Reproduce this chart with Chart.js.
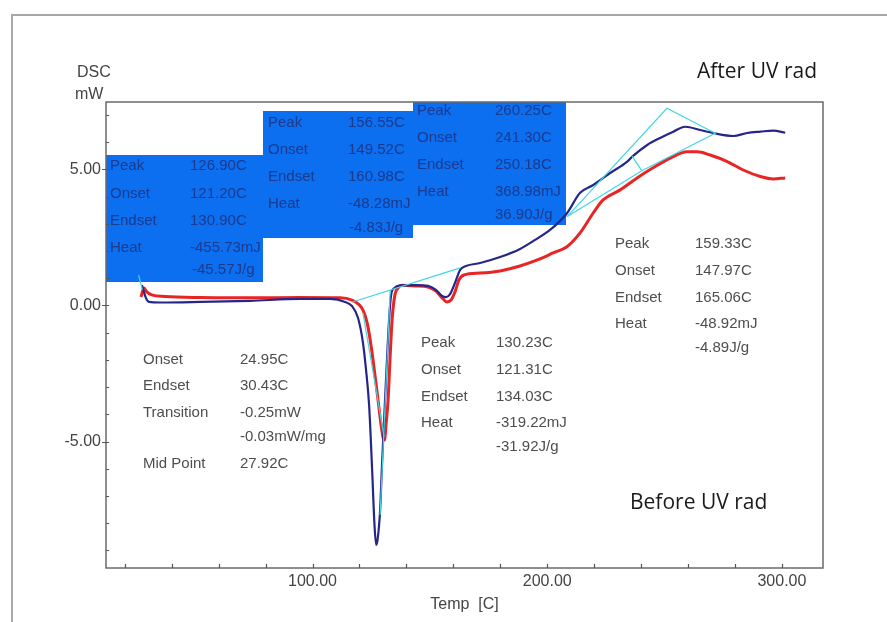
<!DOCTYPE html>
<html><head><meta charset="utf-8">
<script src="https://cdn.jsdelivr.net/npm/chart.js@4.4.0/dist/chart.umd.min.js"></script>
<style>html,body{margin:0;padding:0;background:#fff;}canvas{display:block;}</style>
</head><body>
<canvas id="c" width="887" height="622"></canvas>
<script>
// ---- data ----
const tempAfter = [27.3,27.7,29.0,30.3,35.0,52.0,73.4,94.7,107.5,113.9,116.8,119.4,121.5,122.8,124.1,125.4,126.4,127.1,127.7,128.8,129.6,130.4,131.5,132.6,133.5,134.8,137.3,143.7,149.2,152.6,155.2,156.9,158.6,160.7,162.9,165.4,171.4,179.9,188.4,194.8,201.2,205.5,208.5,214.0,219.6,226.8,234.1,236.2,242.6,248.1,253.7,258.8,265.2,270.7,279.3,285.2,290.8,296.3,301.4];
const dscAfter  = [0.75,0.64,0.28,0.13,0.11,0.13,0.17,0.24,0.24,0.13,-0.02,-0.46,-1.38,-2.37,-3.66,-6.05,-8.07,-8.80,-8.62,-7.52,-5.86,-4.39,-2.37,-0.53,0.39,0.64,0.74,0.75,0.72,0.57,0.35,0.31,0.42,0.83,1.31,1.45,1.56,1.78,2.08,2.41,2.78,3.11,3.40,4.14,4.43,4.87,5.29,5.47,5.90,6.16,6.39,6.57,6.45,6.34,6.23,6.34,6.39,6.43,6.35];
const tempBefore = [26.9,28.2,29.4,31.5,37.1,52.0,73.4,94.7,111.7,116.8,119.4,121.5,123.2,124.9,126.6,127.9,129.2,130.0,130.7,131.3,132.2,133.0,133.9,135.1,136.4,138.1,143.7,149.2,152.6,155.2,157.3,159.0,160.7,162.4,164.5,171.4,179.9,188.4,196.9,202.5,208.4,214.0,219.6,223.8,231.1,238.3,245.1,252.4,259.6,263.9,269.4,276.7,283.5,290.8,296.3,301.4];
const dscBefore  = [0.31,0.64,0.50,0.39,0.33,0.29,0.28,0.29,0.28,0.20,0.06,-0.17,-0.61,-1.45,-2.56,-3.47,-4.39,-4.83,-4.94,-4.39,-3.47,-2.00,-0.53,0.39,0.64,0.74,0.72,0.68,0.53,0.28,0.13,0.20,0.50,0.94,1.12,1.19,1.27,1.45,1.71,1.93,2.16,2.67,3.40,3.88,4.25,4.69,5.06,5.42,5.65,5.65,5.53,5.29,4.98,4.74,4.65,4.69];
// analysis construction lines (cyan)
const cyanTransT = [25.9, 27.5];            const cyanTransV = [1.12, 0.57];
const cyanBaseT  = [116.7, 162.9];          const cyanBaseV  = [0.12, 1.38];
const cyanTanAT  = [121.5, 130.5];          const cyanTanAV  = [-0.28, -4.83];
const cyanTanBT  = [128.8, 133.1];          const cyanTanBV  = [-7.7, 0.57];
const cyanTriT   = [208.4, 251.0, 271.6, 240.3, 208.4]; const cyanTriV = [3.26, 7.25, 6.33, 4.95, 3.26];
const cyanKinkT  = [240.3, 236.1];          const cyanKinkV  = [4.95, 5.5];
// ticks
const xMinorTicks = [20,40,60,80,100,120,140,160,180,200,220,240,260,280,300];
const xMajorTicks = [100,200,300];
const xTickLabels = ['100.00','200.00','300.00'];
const yMinorTicks = [-9,-8,-7,-6,-5,-4,-3,-2,-1,0,1,2,3,4,5,6,7];
const yMajorTicks = [-5,0,5];
const yTickLabels = ['-5.00','0.00','5.00'];
// annotation texts
const box1Labels = ['Peak','Onset','Endset','Heat'];
const box1Values = ['126.90C','121.20C','130.90C','-455.73mJ','-45.57J/g'];
const box2Labels = ['Peak','Onset','Endset','Heat'];
const box2Values = ['156.55C','149.52C','160.98C','-48.28mJ','-4.83J/g'];
const box3Labels = ['Peak','Onset','Endset','Heat'];
const box3Values = ['260.25C','241.30C','250.18C','368.98mJ','36.90J/g'];
const grpALabels = ['Onset','Endset','Transition','','Mid Point'];
const grpAValues = ['24.95C','30.43C','-0.25mW','-0.03mW/mg','27.92C'];
const grpBLabels = ['Peak','Onset','Endset','Heat',''];
const grpBValues = ['130.23C','121.31C','134.03C','-319.22mJ','-31.92J/g'];
const grpCLabels = ['Peak','Onset','Endset','Heat',''];
const grpCValues = ['159.33C','147.97C','165.06C','-48.92mJ','-4.89J/g'];
const seriesNames = ['After UV rad','Before UV rad'];

const pts = (xs, ys) => xs.map((x, i) => ({x, y: ys[i]}));
const cyan = (xs, ys) => ({data: pts(xs, ys), borderColor:'#40d6e4', borderWidth:1.2, pointRadius:0, tension:0, fill:false});

const FONT = '"Liberation Sans", Arial, sans-serif';

const overlay = {
  id: 'overlay',
  beforeDraw(chart) {
    const ctx = chart.ctx;
    ctx.save();
    ctx.fillStyle = '#fff'; ctx.fillRect(0, 0, chart.width, chart.height);
    ctx.strokeStyle = '#a8a8a8'; ctx.lineWidth = 2;
    ctx.beginPath(); ctx.moveTo(12, 622); ctx.lineTo(12, 15); ctx.lineTo(887, 15); ctx.stroke();
    ctx.restore();
  },
  beforeDatasetsDraw(chart) {
    const ctx = chart.ctx, a = chart.chartArea;
    ctx.save();
    ctx.fillStyle = '#0b6ff0';
    ctx.fillRect(a.left, 155, 263 - a.left, 127);
    ctx.fillRect(263, 111, 150, 127);
    ctx.fillRect(413, a.top, 153, 225 - a.top);
    ctx.fillStyle = '#1c3a8e';
    ctx.font = '15px ' + FONT; ctx.textBaseline = 'middle'; ctx.textAlign = 'left';
    const rows = (labels, values, lx, vx, ys, lastDx) => {
      labels.forEach((t, i) => ctx.fillText(t, lx, ys[i]));
      values.forEach((t, i) => ctx.fillText(t, vx + (i === values.length - 1 ? lastDx : 0), ys[i]));
    };
    rows(box1Labels, box1Values, 110, 190, [166, 194, 221, 248, 270], 2);
    rows(box2Labels, box2Values, 268, 348, [123, 150, 177, 204, 228], 1);
    rows(box3Labels, box3Values, 417, 495, [111, 138, 165, 192, 215], 0);
    ctx.restore();
  },
  afterDraw(chart) {
    const ctx = chart.ctx, a = chart.chartArea;
    const xs = chart.scales.x, ys = chart.scales.y;
    ctx.save();
    // plot frame
    ctx.strokeStyle = '#6a6a6a'; ctx.lineWidth = 1.5;
    ctx.strokeRect(a.left, a.top, a.right - a.left, a.bottom - a.top);
    // ticks
    ctx.lineWidth = 1.2; ctx.strokeStyle = '#555';
    ctx.beginPath();
    xMinorTicks.forEach(v => { const px = Math.round(xs.getPixelForValue(v)) + 0.5; ctx.moveTo(px, a.bottom); ctx.lineTo(px, a.bottom - 4); });
    yMinorTicks.forEach(v => { const py = Math.round(ys.getPixelForValue(v)) + 0.5; ctx.moveTo(a.left, py); ctx.lineTo(a.left + 3, py); });
    yMajorTicks.forEach(v => { const py = Math.round(ys.getPixelForValue(v)) + 0.5; ctx.moveTo(a.left - 4, py); ctx.lineTo(a.left, py); });
    ctx.stroke();
    // axis unit label
    ctx.fillStyle = '#444'; ctx.font = '16px ' + FONT; ctx.textBaseline = 'middle'; ctx.textAlign = 'left';
    ctx.fillText('DSC', 77, 73);
    ctx.fillText('mW', 75, 95);
    // grey analysis results
    ctx.fillStyle = '#4e4e4e'; ctx.font = '15px ' + FONT;
    const rows = (labels, values, lx, vx, yArr) => {
      labels.forEach((t, i) => { if (t) ctx.fillText(t, lx, yArr[i]); });
      values.forEach((t, i) => ctx.fillText(t, vx, yArr[i]));
    };
    rows(grpALabels, grpAValues, 143, 240, [360, 386, 413, 437, 464]);
    rows(grpBLabels, grpBValues, 421, 496, [343, 370, 397, 423, 447]);
    rows(grpCLabels, grpCValues, 615, 695, [244, 271, 298, 324, 348]);
    // series captions
    ctx.fillStyle = '#1a1a1a'; ctx.font = '21px "Open Sans", sans-serif';
    ctx.fillText(seriesNames[0], 697, 72);
    ctx.fillText(seriesNames[1], 630, 503);
    ctx.restore();
  }
};

new Chart(document.getElementById('c'), {
  type: 'line',
  data: {
    datasets: [
      cyan(cyanTransT, cyanTransV),
      cyan(cyanBaseT, cyanBaseV),
      cyan(cyanTanAT, cyanTanAV),
      cyan(cyanTanBT, cyanTanBV),
      cyan(cyanTriT, cyanTriV),
      cyan(cyanKinkT, cyanKinkV),
      {label: seriesNames[0], data: pts(tempAfter, dscAfter), borderColor:'#26268a', borderWidth:2.2, pointRadius:0, cubicInterpolationMode:'monotone', fill:false},
      {label: seriesNames[1], data: pts(tempBefore, dscBefore), borderColor:'#e82424', borderWidth:3, pointRadius:0, cubicInterpolationMode:'monotone', fill:false}
    ]
  },
  options: {
    responsive: false, animation: false, devicePixelRatio: 1,
    layout: {padding: {left: 0, top: 102, right: 64, bottom: 0}},
    plugins: {legend: {display: false}, tooltip: {enabled: false}},
    events: [],
    scales: {
      x: {
        type: 'linear', min: 12, max: 317.5,
        grid: {display: false, drawTicks: false}, border: {display: false},
        afterBuildTicks: s => { s.ticks = xMajorTicks.map(v => ({value: v})); },
        afterFit: s => { s.height = 54; },
        ticks: {autoSkip: false, maxRotation: 0, padding: 4, color: '#444', font: {family: FONT, size: 16},
          callback: v => { const i = xMajorTicks.indexOf(v); return i >= 0 ? xTickLabels[i] : ''; }},
        title: {display: true, text: 'Temp  [C]', color: '#444', font: {family: FONT, size: 16}, padding: {top: 0, bottom: 8}}
      },
      y: {
        type: 'linear', min: -9.65, max: 7.48,
        grid: {display: false, drawTicks: false}, border: {display: false},
        afterBuildTicks: s => { s.ticks = yMajorTicks.map(v => ({value: v})); },
        afterFit: s => { s.width = 106; },
        ticks: {autoSkip: false, padding: 5, color: '#444', font: {family: FONT, size: 16},
          callback: v => { const i = yMajorTicks.indexOf(v); return i >= 0 ? yTickLabels[i] : ''; }}
      }
    }
  },
  plugins: [overlay]
});
</script>
</body></html>
